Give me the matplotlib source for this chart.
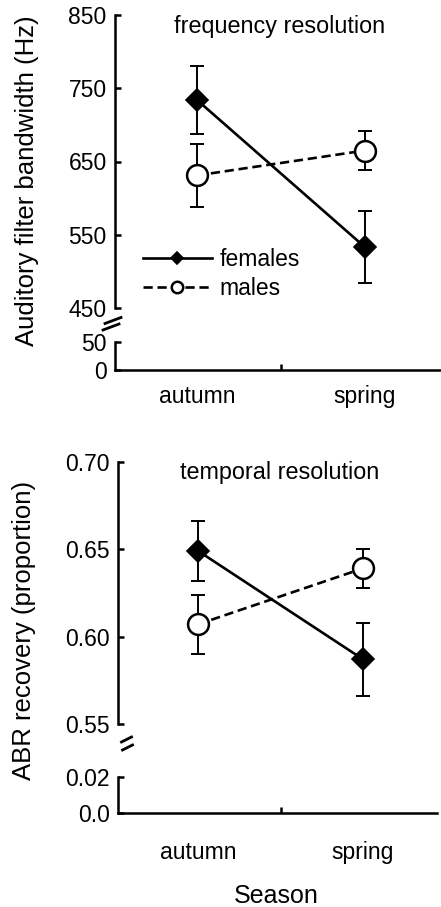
import matplotlib
matplotlib.use("Agg")
import matplotlib.pyplot as plt
from matplotlib.lines import Line2D
from matplotlib.ticker import FixedLocator

plt.rcParams['font.family'] = ['Liberation Sans', 'DejaVu Sans']

seasons = ['autumn', 'spring']

# frequency resolution (Hz)
freq_female = [734, 533]
freq_female_err = [47, 49]
freq_male = [631, 665]
freq_male_err = [43, 27]
freq_ticks = [450, 550, 650, 750, 850]
freq_low_ticks = [0, 50]

# temporal resolution (proportion)
temp_female = [0.649, 0.587]
temp_female_err = [0.017, 0.021]
temp_male = [0.607, 0.639]
temp_male_err = [0.017, 0.011]
temp_ticks = [0.55, 0.60, 0.65, 0.70]
temp_low_ticks = [0.0, 0.02]

W, H = 441, 907
fig = plt.figure(figsize=(W / 100, H / 100), dpi=100)

FS = 16.5
LW = 1.8


def fx(px):
    return px / W


def fy(py):
    return 1 - py / H


def make_panel(left, top_px, upper_bottom_px, low_top_px, low_bottom_px,
               xa, xs, right_px, ylim_up, yticks_up, ylim_low, yticks_low,
               yfmt_up, yfmt_low, female, ferr, male, merr, title, title_y,
               xlabpad):
    unit = xs - xa
    xlim = ((left - xa) / unit, 1 + (right_px - xs) / unit)
    axu = fig.add_axes([fx(left), fy(upper_bottom_px), fx(right_px - left),
                        (upper_bottom_px - top_px) / H])
    axl = fig.add_axes([fx(left), fy(low_bottom_px), fx(right_px - left),
                        (low_bottom_px - low_top_px) / H])
    for ax in (axu, axl):
        ax.set_xlim(*xlim)
        ax.patch.set_alpha(0)
        for s in ('top', 'right'):
            ax.spines[s].set_visible(False)
        ax.spines['left'].set_linewidth(LW)
        ax.spines['bottom'].set_linewidth(LW)
        ax.tick_params(axis='y', direction='in', length=4.5, width=LW,
                       labelsize=FS, pad=6)
    axu.spines['bottom'].set_visible(False)
    axu.set_xticks([])
    axu.set_ylim(*ylim_up)
    axu.set_yticks(yticks_up)
    axu.set_yticklabels([yfmt_up(v) for v in yticks_up])

    axl.set_ylim(*ylim_low)
    axl.set_yticks(yticks_low)
    axl.set_yticklabels([yfmt_low(v) for v in yticks_low])
    axl.set_xticks([0, 1])
    axl.set_xticklabels(seasons)
    axl.xaxis.set_minor_locator(FixedLocator([0.5]))
    axl.tick_params(axis='x', which='major', length=0, labelsize=FS, pad=xlabpad)
    axl.tick_params(axis='x', which='minor', direction='in', length=4.5, width=LW)

    x = [0, 1]
    axu.errorbar(x, female, yerr=ferr, fmt='none', ecolor='black',
                 elinewidth=1.4, capsize=5, capthick=1.4, zorder=2)
    axu.errorbar(x, male, yerr=merr, fmt='none', ecolor='black',
                 elinewidth=1.4, capsize=5, capthick=1.4, zorder=2)
    lf, = axu.plot(x, female, color='black', lw=1.9, marker='D', ms=11,
                   mfc='black', mec='black', mew=1.2, zorder=3, label='females',
                   clip_on=False)
    lm, = axu.plot(x, male, color='black', lw=1.9, ls=(0, (3.5, 1.8)), marker='o',
                   ms=15, mfc='white', mec='black', mew=1.8, zorder=3,
                   label='males', clip_on=False)
    fig.text(fx(280), fy(title_y), title, ha='center', va='center', fontsize=16.8)
    return axu, axl, lf, lm


axu1, axl1, lf, lm = make_panel(
    115, 15, 308, 342, 370, 197, 365, 440,
    (450, 850), freq_ticks, (0, 50), freq_low_ticks,
    lambda v: f"{v:d}", lambda v: f"{v:d}",
    freq_female, freq_female_err, freq_male, freq_male_err,
    'frequency resolution', 26, 11)

axu2, axl2, _, _ = make_panel(
    118, 461.7, 724, 777, 813, 198, 363, 437,
    (0.55, 0.70), temp_ticks, (0.0, 0.02), temp_low_ticks,
    lambda v: f"{v:.2f}", lambda v: ("0.0" if v == 0 else f"{v:.2f}"),
    temp_female, temp_female_err, temp_male, temp_male_err,
    'temporal resolution', 473, 20)

leg = axu1.legend(handles=[lf, lm], loc='upper left',
                  bbox_to_anchor=(fx(143), fy(248)),
                  bbox_transform=fig.transFigure, frameon=False,
                  fontsize=FS, markerscale=0.55, handlelength=3.0,
                  handletextpad=0.35, labelspacing=0.28, borderpad=0,
                  borderaxespad=0)

# axis break marks
for (x0, y0, x1, y1) in [(105, 323.5, 121, 317.5), (103, 330, 119, 324),
                         (121.5, 742, 131.5, 737), (122.5, 750, 132.5, 745)]:
    fig.add_artist(Line2D([fx(x0), fx(x1)], [fy(y0), fy(y1)],
                          transform=fig.transFigure, color='black', lw=2.0))

fig.text(fx(27), fy(181), 'Auditory filter bandwidth (Hz)', rotation=90,
         ha='center', va='center', fontsize=18.5)
fig.text(fx(24), fy(630), 'ABR recovery (proportion)', rotation=90,
         ha='center', va='center', fontsize=18.5)
fig.text(fx(276), fy(896), 'Season', ha='center', va='center', fontsize=18)

fig.savefig('out.png', dpi=100)
